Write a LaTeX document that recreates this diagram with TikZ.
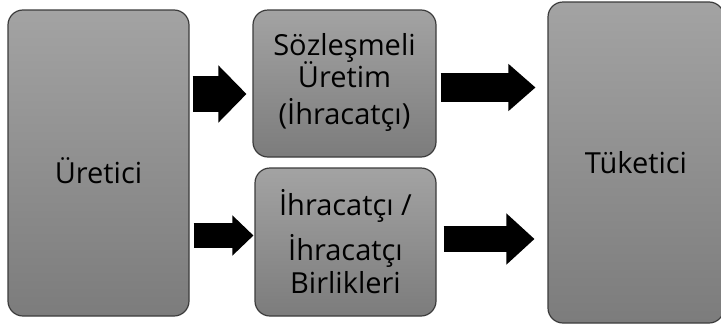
\documentclass[tikz,border=0pt]{standalone}
\usepackage{fontspec}
\setmainfont{Open Sans}
\usetikzlibrary{arrows.meta}
\definecolor{boxtop}{RGB}{163,163,163}
\definecolor{boxbot}{RGB}{124,124,124}
\definecolor{boxline}{RGB}{60,60,60}
\tikzstyle{box}=[rectangle, rounded corners=15pt, top color=boxtop, bottom color=boxbot, draw=boxline, line width=1.2pt, align=center, text=black, font=\fontsize{29}{33}\selectfont, inner sep=0pt, anchor=center]
\tikzset{blockarrow/.style n args={3}{draw=black, line width=#1, -{Triangle[length=#3, width=#2, line width=1.5pt]}}}

\begin{document}
\begin{tikzpicture}[x=1pt, y=-1pt]
	\useasboundingbox (0,0) rectangle (721,327);

	% the four boxes
	\node[box, minimum width=181pt, minimum height=306pt, text height=40pt, text depth=0pt](uretici) at (98.5,163){Üretici};
	\node[box, minimum width=183pt, minimum height=147pt, text depth=10pt](sozlesmeli) at (344.5,83.5){Sözleşmeli\\[-1pt]Üretim\\[4pt](İhracatçı)};
	\node[box, minimum width=181pt, minimum height=148pt](ihracatci) at (345.5,242){İhracatçı /\\[11pt]İhracatçı\\Birlikleri};
	\node[box, minimum width=176pt, minimum height=321pt](tuketici) at (636,162.5){Tüketici};

	% arrows between them
	\draw[blockarrow={36pt}{57pt}{28pt}] ([xshift=3pt,yshift=69pt]uretici.east) -- ([xshift=-6pt,yshift=-10.5pt]sozlesmeli.west);
	\draw[blockarrow={25pt}{40pt}{21pt}] ([xshift=4pt,yshift=-72.5pt]uretici.east) -- ([xshift=-1pt,yshift=6.5pt]ihracatci.west);
	\draw[blockarrow={29pt}{47pt}{27pt}] ([xshift=4pt,yshift=-4pt]sozlesmeli.east) -- ([xshift=-12pt,yshift=75pt]tuketici.west);
	\draw[blockarrow={26pt}{51pt}{28pt}] ([xshift=7pt,yshift=3pt]ihracatci.east) -- ([xshift=-13pt,yshift=-76.5pt]tuketici.west);

\end{tikzpicture}
\end{document}
